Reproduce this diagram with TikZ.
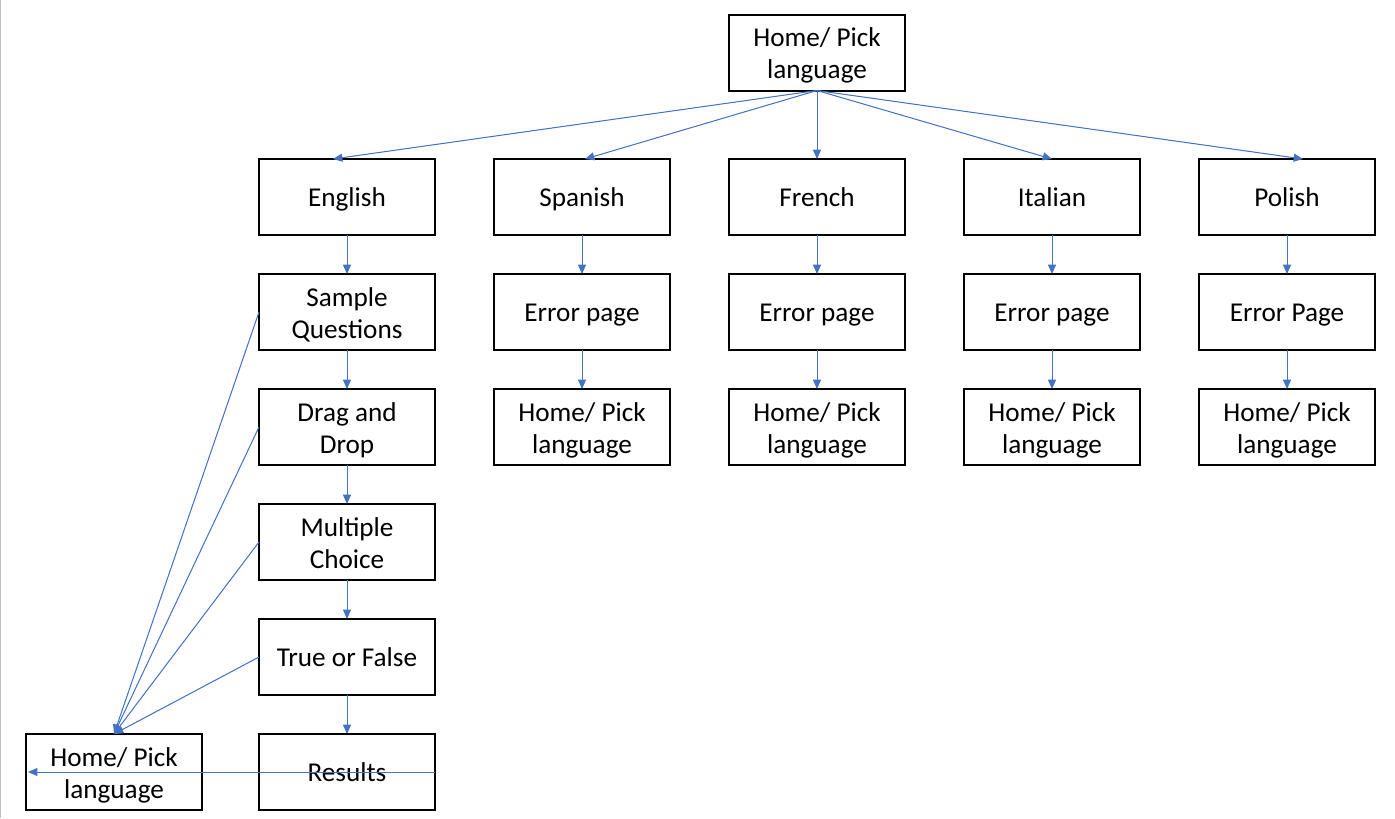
\documentclass[tikz,border=0pt]{standalone}
\usepackage{fontspec}
\setmainfont{Carlito}
\usetikzlibrary{positioning,calc,arrows.meta}
\definecolor{linkblue}{HTML}{4472C4}

\begin{document}
\begin{tikzpicture}[x=0.75pt,y=-0.75pt,
   page/.style={draw, line width=1.5pt, outer sep=0pt, minimum width=132pt, minimum height=57pt,
     align=center, inner sep=2pt, font=\fontsize{20.4}{24.2}\selectfont,
     text height=19.8pt, text depth=5.4pt},
   twoline/.style={text height=44.8pt},
   link/.style={-{Triangle[length=7pt,width=6pt]}, draw=linkblue, fill=linkblue, line width=0.75pt}]
   \useasboundingbox (0,0) rectangle (1395,818);
   \draw[black!25, line width=0.75pt] (0.5,0) -- (0.5,818);

   % top page
   \node[page, twoline] (home) at (817,52.5) {Home/ Pick\\language};

   % language row
   \node[page] (english) at (347,197) {English};
   \node[page] (spanish) [right=44.25pt of english] {Spanish};
   \node[page] (french) [right=44.25pt of spanish] {French};
   \node[page] (italian) [right=44.25pt of french] {Italian};
   \node[page] (polish) [right=44.25pt of italian] {Polish};

   % english quiz pages
   \node[page, twoline] (sample) [below=29.25pt of english] {Sample\\Questions};
   \node[page, twoline] (drag) [below=29.25pt of sample] {Drag and\\Drop};
   \node[page, twoline] (multiple) [below=29.25pt of drag] {Multiple\\Choice};
   \node[page] (truefalse) [below=29.25pt of multiple] {True or False};
   \node[page] (results) [below=29.25pt of truefalse] {Results};
   \node[page, twoline] (homeL) [left=42.75pt of results] {Home/ Pick\\language};

   % error pages
   \node[page] (errS) [below=29.25pt of spanish] {Error page};
   \node[page] (errF) [below=29.25pt of french] {Error page};
   \node[page] (errI) [below=29.25pt of italian] {Error page};
   \node[page] (errP) [below=29.25pt of polish] {Error Page};
   \node[page, twoline] (homeS) [below=29.25pt of errS] {Home/ Pick\\language};
   \node[page, twoline] (homeF) [below=29.25pt of errF] {Home/ Pick\\language};
   \node[page, twoline] (homeI) [below=29.25pt of errI] {Home/ Pick\\language};
   \node[page, twoline] (homeP) [below=29.25pt of errP] {Home/ Pick\\language};

   % links from the top page
   \draw[link] (home.south) -- ($(english.north)+(-14,0)$);
   \draw[link] (home.south) -- ($(spanish.north)+(3,0)$);
   \draw[link] (home.south) -- (french.north);
   \draw[link] (home.south) -- (italian.north);
   \draw[link] (home.south) -- ($(polish.north)+(16,0)$);

   % down the columns
   \foreach \a/\b in {english/sample, sample/drag, drag/multiple, multiple/truefalse,
     truefalse/results, spanish/errS, errS/homeS, french/errF, errF/homeF,
     italian/errI, errI/homeI, polish/errP, errP/homeP}
     \draw[link] (\a.south) -- (\b.north);

   % back to the language choice
   \foreach \a in {sample, drag, multiple, truefalse}
     \draw[link] (\a.west) -- (homeL.north);
   \draw[link] (results.east) -- ($(homeL.west)+(2,0)$);
\end{tikzpicture}
\end{document}
